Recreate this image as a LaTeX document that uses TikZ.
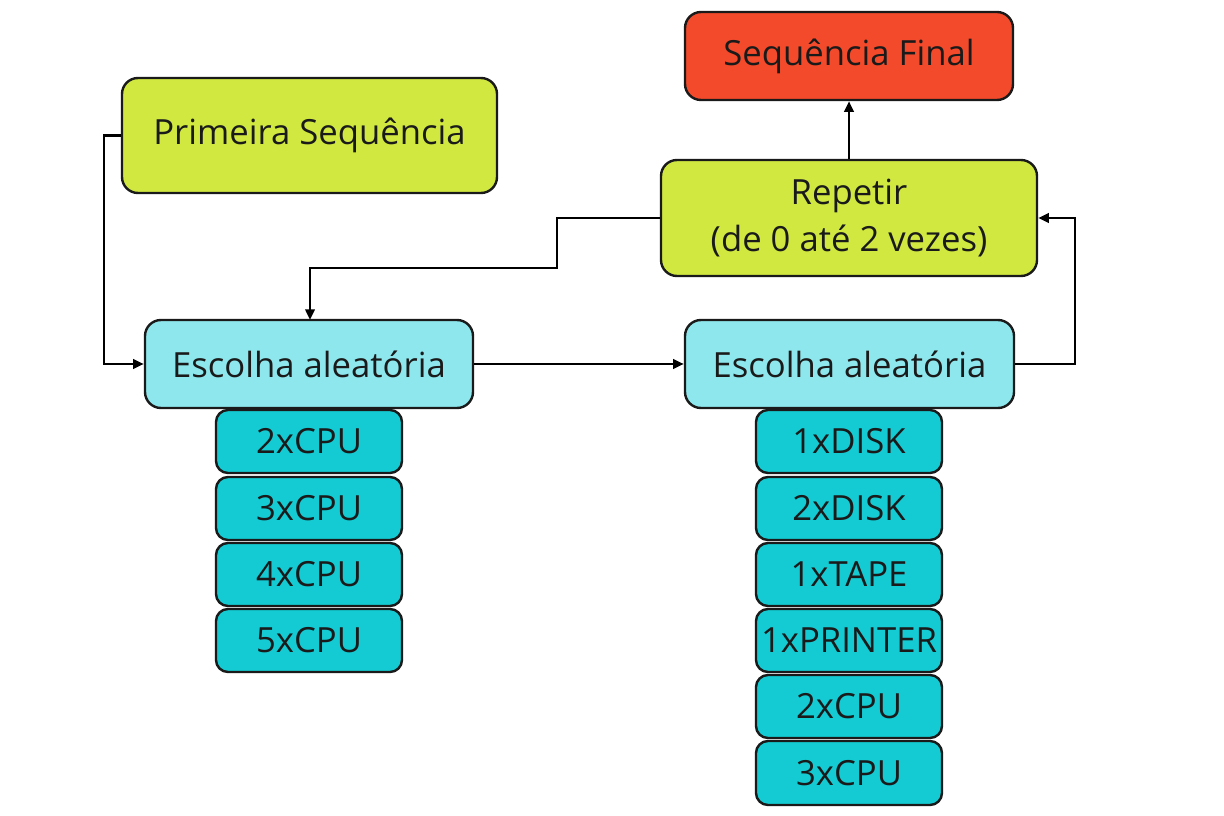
\documentclass[tikz,border=0pt]{standalone}
\usepackage{fontspec}
\setmainfont{Open Sans}
\usetikzlibrary{arrows.meta}
\definecolor{lime}{HTML}{D1E841}
\definecolor{redbox}{HTML}{F24A2A}
\definecolor{lightcyan}{HTML}{8DE7EC}
\definecolor{cyanbox}{HTML}{14CBD3}
\definecolor{txt}{HTML}{1A1A1A}
\begin{document}
\begin{tikzpicture}[x=0.75pt,y=-0.75pt,
  box/.style={draw=txt,line width=1.8pt,rounded corners=12pt,text=txt,font=\fontsize{26}{35}\selectfont,align=center,inner sep=0pt},
  conn/.style={line width=1.9pt,draw=black,-{Triangle[length=8pt,width=7pt]}}]
\useasboundingbox (0,0) rectangle (1224,816);
\def\bx#1#2#3#4#5#6#7{\node[box,fill=#6,minimum width={(#3-#1)*0.75pt},minimum height={(#4-#2)*0.75pt}] (#5) at ({(#1+#3)/2},{(#2+#4)/2}) {#7};}
\bx{122}{78}{497}{193}{prim}{lime}{Primeira Sequência}
\bx{685}{12}{1013}{100}{final}{redbox}{Sequência Final}
\bx{661}{160}{1037}{276}{rep}{lime}{Repetir\\(de 0 até 2 vezes)}
\bx{145}{320}{473}{408}{escA}{lightcyan}{Escolha aleatória}
\bx{685}{320}{1014}{408}{escB}{lightcyan}{Escolha aleatória}
\tikzset{box/.append style={rounded corners=9pt}}
\bx{216}{410}{402}{473}{a1}{cyanbox}{2xCPU}
\bx{216}{477}{402}{540}{a2}{cyanbox}{3xCPU}
\bx{216}{543}{402}{606}{a3}{cyanbox}{4xCPU}
\bx{216}{609}{402}{672}{a4}{cyanbox}{5xCPU}
\bx{756}{410}{942}{473}{b1}{cyanbox}{1xDISK}
\bx{756}{477}{942}{540}{b2}{cyanbox}{2xDISK}
\bx{756}{543}{942}{606}{b3}{cyanbox}{1xTAPE}
\bx{756}{609}{942}{672}{b4}{cyanbox}{1xPRINTER}
\bx{756}{675}{942}{738}{b5}{cyanbox}{2xCPU}
\bx{756}{741}{942}{805}{b6}{cyanbox}{3xCPU}
\draw[conn] (prim.west) -- (104,135.5) -- (104,364) -- (escA.west);
\draw[conn] (escA.east) -- (escB.west);
\draw[conn] (escB.east) -- (1075,364) -- (1075,218) -- (rep.east);
\draw[conn] (rep.west) -- (557,218) -- (557,268) -- (310,268) -- (310,320);
\draw[conn] (rep.north -| 849,0) -- (final.south -| 849,0);
\end{tikzpicture}
\end{document}
